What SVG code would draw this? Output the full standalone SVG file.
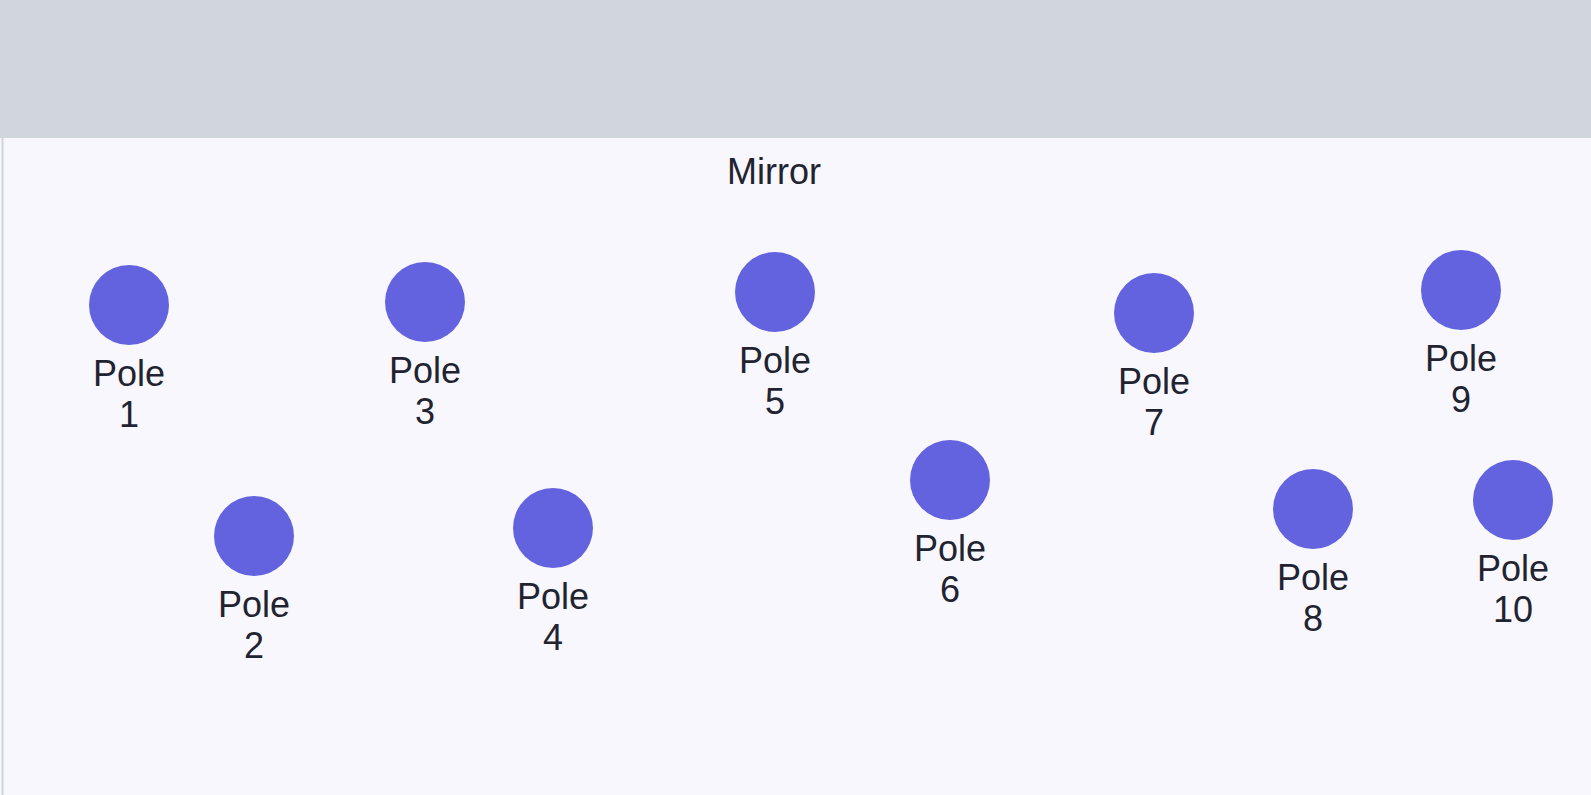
<svg xmlns="http://www.w3.org/2000/svg" width="1591" height="795" viewBox="0 0 1591 795">
<style>
.pole{fill:#6363e0}
.lbl{font-family:"Liberation Sans",Arial,sans-serif;font-size:36px;fill:#1f2430;text-anchor:middle}
</style>
<rect x="0" y="0" width="1591" height="795" fill="#f8f7fd"/>
<rect x="0" y="0" width="1591" height="138" fill="#d1d5dc"/>
<line x1="2.5" y1="138" x2="2.5" y2="795" stroke="#d1d5dc" stroke-width="2"/>
<text id="title" class="lbl" x="774" y="184">Mirror</text>
<g id="connectors"></g>
<g id="pole1"><circle class="pole" cx="129" cy="305" r="40"/><text class="lbl" x="129" y="386">Pole<tspan x="129" dy="40.5">1</tspan></text></g>
<g id="pole2"><circle class="pole" cx="254" cy="536" r="40"/><text class="lbl" x="254" y="617">Pole<tspan x="254" dy="40.5">2</tspan></text></g>
<g id="pole3"><circle class="pole" cx="425" cy="302" r="40"/><text class="lbl" x="425" y="383">Pole<tspan x="425" dy="40.5">3</tspan></text></g>
<g id="pole4"><circle class="pole" cx="553" cy="528" r="40"/><text class="lbl" x="553" y="609">Pole<tspan x="553" dy="40.5">4</tspan></text></g>
<g id="pole5"><circle class="pole" cx="775" cy="292" r="40"/><text class="lbl" x="775" y="373">Pole<tspan x="775" dy="40.5">5</tspan></text></g>
<g id="pole6"><circle class="pole" cx="950" cy="480" r="40"/><text class="lbl" x="950" y="561">Pole<tspan x="950" dy="40.5">6</tspan></text></g>
<g id="pole7"><circle class="pole" cx="1154" cy="313" r="40"/><text class="lbl" x="1154" y="394">Pole<tspan x="1154" dy="40.5">7</tspan></text></g>
<g id="pole8"><circle class="pole" cx="1313" cy="509" r="40"/><text class="lbl" x="1313" y="590">Pole<tspan x="1313" dy="40.5">8</tspan></text></g>
<g id="pole9"><circle class="pole" cx="1461" cy="290" r="40"/><text class="lbl" x="1461" y="371">Pole<tspan x="1461" dy="40.5">9</tspan></text></g>
<g id="pole10"><circle class="pole" cx="1513" cy="500" r="40"/><text class="lbl" x="1513" y="581">Pole<tspan x="1513" dy="40.5">10</tspan></text></g>
</svg>
